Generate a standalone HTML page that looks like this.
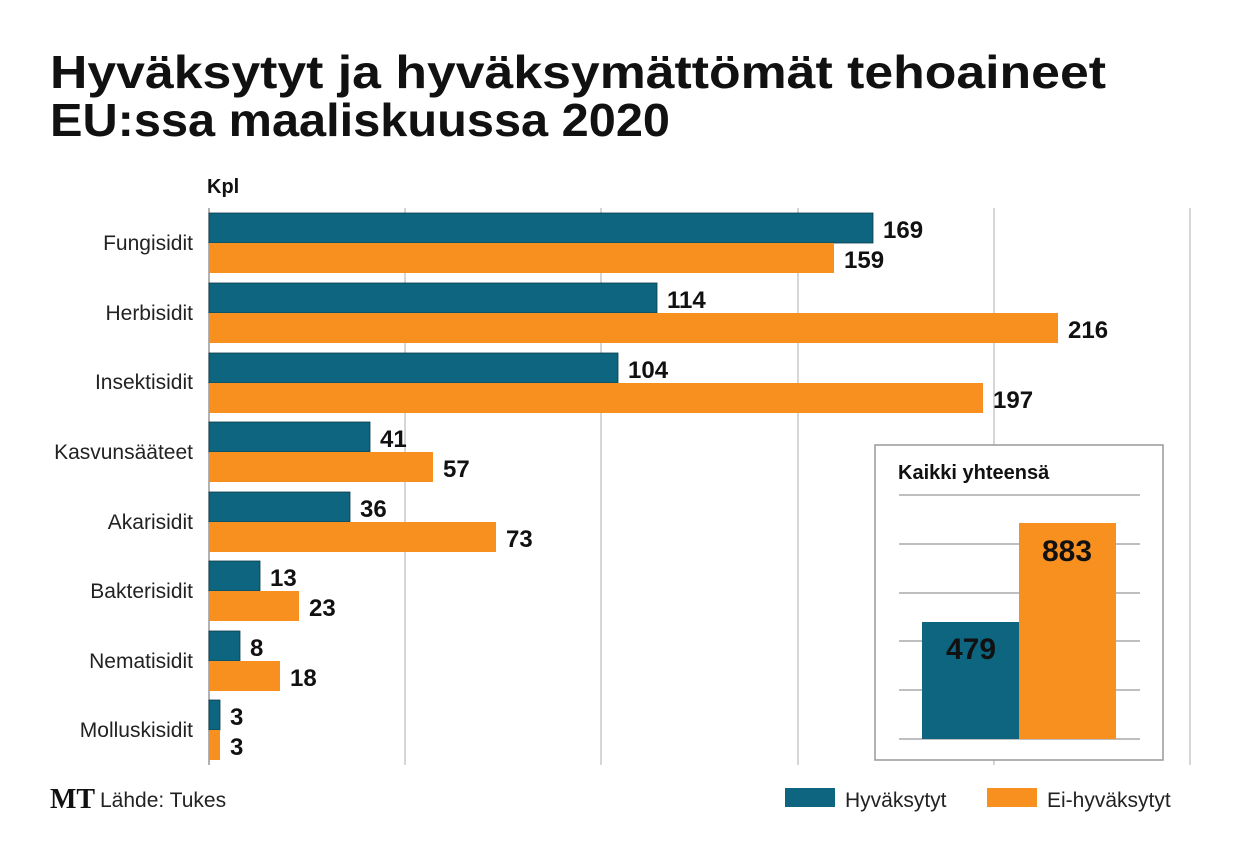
<!DOCTYPE html>
<html><head><meta charset="utf-8"><style>body{margin:0;background:#fff}svg{display:block}</style></head><body>
<svg width="1240" height="854" xmlns="http://www.w3.org/2000/svg" font-family="Liberation Sans, DejaVu Sans, sans-serif">
<rect width="1240" height="854" fill="#fff"/>
<text x="50" y="88" font-size="46" font-weight="bold" fill="#111" textLength="1056" lengthAdjust="spacingAndGlyphs">Hyväksytyt ja hyväksymättömät tehoaineet</text>
<text x="50" y="136" font-size="46" font-weight="bold" fill="#111" textLength="620" lengthAdjust="spacingAndGlyphs">EU:ssa maaliskuussa 2020</text>
<text x="207" y="193" font-size="20" font-weight="bold" fill="#111">Kpl</text>
<g stroke="#c8c8c8" stroke-width="1.5">
<line x1="405" y1="208" x2="405" y2="765"/><line x1="601" y1="208" x2="601" y2="765"/><line x1="798" y1="208" x2="798" y2="765"/><line x1="994" y1="208" x2="994" y2="765"/><line x1="1190" y1="208" x2="1190" y2="765"/>
</g>
<line x1="209" y1="208" x2="209" y2="765" stroke="#999" stroke-width="1.5"/>
<g font-size="21" fill="#222" text-anchor="end">
<text x="193" y="250">Fungisidit</text><text x="193" y="320">Herbisidit</text><text x="193" y="389">Insektisidit</text><text x="193" y="459">Kasvunsääteet</text><text x="193" y="529">Akarisidit</text><text x="193" y="598">Bakterisidit</text><text x="193" y="668">Nematisidit</text><text x="193" y="737">Molluskisidit</text>
</g>
<g fill="#0d6580" stroke="#0a3a4a" stroke-width="0.8">
<rect x="209" y="213" width="664" height="30"/><rect x="209" y="283" width="448" height="30"/><rect x="209" y="353" width="409" height="30"/><rect x="209" y="422" width="161" height="30"/><rect x="209" y="492" width="141" height="30"/><rect x="209" y="561" width="51" height="30"/><rect x="209" y="631" width="31" height="30"/><rect x="209" y="700" width="11" height="30"/>
</g>
<g fill="#f7901e">
<rect x="209" y="243" width="625" height="30"/><rect x="209" y="313" width="849" height="30"/><rect x="209" y="383" width="774" height="30"/><rect x="209" y="452" width="224" height="30"/><rect x="209" y="522" width="287" height="30"/><rect x="209" y="591" width="90" height="30"/><rect x="209" y="661" width="71" height="30"/><rect x="209" y="730" width="11" height="30"/>
</g>
<g font-size="24" font-weight="bold" fill="#111">
<text x="883" y="238">169</text><text x="844" y="268">159</text>
<text x="667" y="308">114</text><text x="1068" y="338">216</text>
<text x="628" y="378">104</text><text x="993" y="408">197</text>
<text x="380" y="447">41</text><text x="443" y="477">57</text>
<text x="360" y="517">36</text><text x="506" y="547">73</text>
<text x="270" y="586">13</text><text x="309" y="616">23</text>
<text x="250" y="656">8</text><text x="290" y="686">18</text>
<text x="230" y="725">3</text><text x="230" y="755">3</text>
</g>
<rect x="875" y="445" width="288" height="315" fill="#fff" stroke="#999" stroke-width="1.5"/>
<text x="898" y="479" font-size="20" font-weight="bold" fill="#111">Kaikki yhteensä</text>
<g stroke="#999" stroke-width="1.2">
<line x1="899" y1="495" x2="1140" y2="495"/><line x1="899" y1="544" x2="1140" y2="544"/><line x1="899" y1="593" x2="1140" y2="593"/><line x1="899" y1="641" x2="1140" y2="641"/><line x1="899" y1="690" x2="1140" y2="690"/><line x1="899" y1="739" x2="1140" y2="739"/>
</g>
<rect x="922" y="622" width="97" height="117" fill="#0d6580"/>
<rect x="1019" y="523" width="97" height="216" fill="#f7901e"/>
<g font-size="30" font-weight="bold" fill="#111" text-anchor="middle"><text x="971" y="659">479</text><text x="1067" y="561">883</text></g>
<text x="50" y="808" font-size="28" font-weight="bold" font-family="Liberation Serif, serif" fill="#111">MT</text>
<text x="100" y="807" font-size="21" fill="#222">Lähde: Tukes</text>
<rect x="785" y="788" width="50" height="19" fill="#0d6580"/>
<text x="845" y="807" font-size="21" fill="#222">Hyväksytyt</text>
<rect x="987" y="788" width="50" height="19" fill="#f7901e"/>
<text x="1047" y="807" font-size="21" fill="#222">Ei-hyväksytyt</text>
</svg>
</body></html>
